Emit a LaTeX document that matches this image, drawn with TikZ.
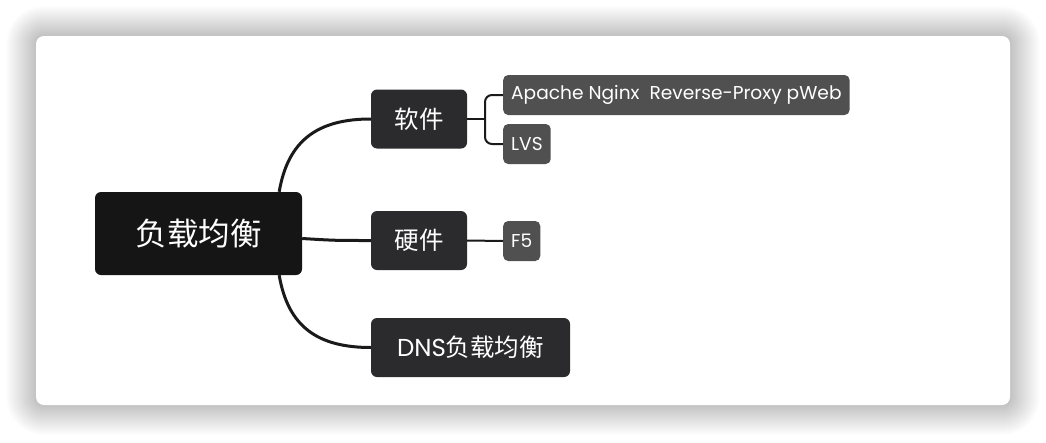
\documentclass[tikz,border=0pt]{standalone}
\usepackage{fontspec}
\setmainfont{Poppins}
\newfontfamily\cjk{Noto Sans CJK SC}
\usetikzlibrary{positioning}

\definecolor{rootfill}{HTML}{151515}
\definecolor{mainfill}{HTML}{2B2B2D}
\definecolor{subfill}{HTML}{505050}
\definecolor{linecol}{HTML}{1A1A1A}

\begin{document}
\begin{tikzpicture}
    [x=1pt, y=-1pt,
     rootbox/.style={fill=rootfill, rounded corners=6pt, text=white,
       minimum width=207pt, minimum height=83pt, font=\cjk\fontsize{31.5}{31.5}\selectfont},
     mainbox/.style={fill=mainfill, rounded corners=6pt, text=white,
       minimum height=59pt, font=\fontsize{24.5}{24.5}\selectfont},
     subbox/.style={fill=subfill, rounded corners=5pt, text=white, anchor=west,
       minimum height=40pt, inner xsep=8pt, font=\fontsize{18.6}{18.6}\selectfont},
     branch/.style={draw=linecol, line width=3pt},
     twig/.style={draw=linecol, line width=2pt}]
    \useasboundingbox [fill=white] (0,0) rectangle (1046,442);

    % card with soft shadow
    \foreach \i in {1,...,30}
      \fill [black, opacity=0.0065, rounded corners=8pt+\i pt]
        (36-\i, 36-\i) rectangle (1010+\i, 405+\i);
    \fill [white, rounded corners=8pt] (36,36) rectangle (1010,405);

    \node (root) [rootbox] at (198.5, 233.5) {负载均衡};
    \node (soft) [mainbox, minimum width=96pt] at (419, 119) {\cjk 软件};
    \node (hard) [mainbox, minimum width=96pt] at (419, 240.5) {\cjk 硬件};
    \node (dns) [mainbox, minimum width=199pt] at (470.5, 347.5) {DNS{\cjk 负载均衡}};

    \node (web) [subbox] at (503, 95) {Apache Nginx~ Reverse-Proxy pWeb};
    \node (lvs) [subbox] at (503, 144) {LVS};
    \node (f5) [subbox] at (503, 241) {F5};

    \coordinate (fork) at (485, 119);

    \draw [branch] ([xshift=-23pt]root.north east)
      .. controls (288, 140) and (318, 119) .. (soft.west);
    \draw [branch] ([yshift=-5pt]root.east)
      .. controls (335, 240.5) .. (hard.west);
    \draw [branch] ([xshift=-23pt]root.south east)
      .. controls (288, 327) and (318, 347.5) .. (dns.west);

    \draw [twig] (soft.east) -- (fork);
    \draw [twig, rounded corners=7pt] (web.west) -| (fork) |- (lvs.west);
    \draw [twig] (hard.east) -- (f5.west);
  \end{tikzpicture}
\end{document}
